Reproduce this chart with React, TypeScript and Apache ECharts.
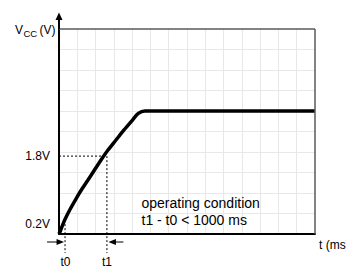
import React, { useEffect, useRef } from "react";
import * as echarts from "echarts";

// Supply voltage rise curve (x in grid units of time, y in volts)
const curveT = [0, 0.093, 0.312, 0.585, 0.891, 1.22, 1.586, 1.941, 2.297, 2.68, 3.117, 3.555, 4.02, 4.337, 4.703, 14];
const curveV = [0, 0.098, 0.341, 0.585, 0.829, 1.073, 1.317, 1.561, 1.805, 2.049, 2.293, 2.537, 2.78, 2.944, 3.0, 3.0];

// Marker levels / times
const levelValues = [0.24, 1.9];
const levelLabels = ["0.2V", "1.8V"];
const timeValues = [0.33, 2.62];
const timeLabels = ["t0", "t1"];

const noteLines = ["operating condition", "t1 - t0 < 1000 ms"];

const FONT = '"Liberation Sans", Arial, sans-serif';

export default function App() {
  const ref = useRef<HTMLDivElement>(null);

  useEffect(() => {
    if (!ref.current) return;
    const chart = echarts.init(ref.current, null, { renderer: "svg" });
    chart.setOption({
      animation: false,
      grid: { left: 59, right: 31, top: 29, bottom: 35 },
      xAxis: {
        type: "value",
        min: 0,
        max: 14,
        interval: 1,
        axisLine: { show: true, onZero: false, lineStyle: { color: "#000", width: 2 } },
        axisTick: { show: false },
        axisLabel: { show: false },
        splitLine: { show: true, showMinLine: false, showMaxLine: false, lineStyle: { color: "#e8e8e8", width: 1 } },
      },
      yAxis: {
        type: "value",
        min: 0,
        max: 5,
        interval: 0.5,
        axisLine: { show: true, onZero: false, lineStyle: { color: "#000", width: 2 } },
        axisTick: { show: false },
        axisLabel: { show: false },
        splitLine: { show: true, showMinLine: false, showMaxLine: false, lineStyle: { color: "#e8e8e8", width: 1 } },
      },
      series: [
        {
          type: "line",
          data: curveT.map((t, i) => [t, curveV[i]]),
          smooth: 0.3,
          showSymbol: false,
          lineStyle: { color: "#000", width: 3.5 },
          z: 5,
        },
      ],
    });

    const p = (x: number, y: number) => chart.convertToPixel({ gridIndex: 0 }, [x, y]) as number[];
    const [x0, yBottom] = p(0, 0);
    const [xMax, yTop] = p(14, 5);

    const dash = { stroke: "#000", lineWidth: 1, lineDash: [2, 2] };
    const txt = (text: string, x: number, y: number, size: number, align: string) => ({
      type: "text",
      x,
      y,
      z: 20,
      style: {
        text,
        fill: "#000",
        font: `${size}px ${FONT}`,
        fontSize: size,
        fontFamily: FONT,
        align,
        textAlign: align,
        verticalAlign: "middle",
        textVerticalAlign: "middle",
      },
    });

    const g: any[] = [];
    // top & right frame
    g.push({ type: "line", z: 15, shape: { x1: x0, y1: yTop, x2: xMax, y2: yTop }, style: { stroke: "#5a5a5a", lineWidth: 1.5 } });
    g.push({ type: "line", z: 15, shape: { x1: xMax, y1: yTop, x2: xMax, y2: yBottom }, style: { stroke: "#5a5a5a", lineWidth: 1.5 } });
    // y-axis extension + arrow
    g.push({ type: "line", z: 16, shape: { x1: x0, y1: yTop, x2: x0, y2: 18 }, style: { stroke: "#000", lineWidth: 2 } });
    g.push({ type: "polygon", z: 16, shape: { points: [[x0, 12.5], [x0 - 3.5, 20], [x0 + 3.5, 20]] }, style: { fill: "#000" } });

    // level markers
    const [tx1, ly1] = p(timeValues[1], levelValues[1]);
    const [tx0, ly0] = p(timeValues[0], levelValues[0]);
    g.push({ type: "line", z: 12, shape: { x1: x0, y1: ly1, x2: tx1, y2: ly1 }, style: dash });
    g.push({ type: "line", z: 12, shape: { x1: tx1, y1: ly1, x2: tx1, y2: yBottom + 19 }, style: dash });
    g.push({ type: "line", z: 12, shape: { x1: tx0, y1: ly0, x2: tx0, y2: yBottom + 19 }, style: dash });

    levelValues.forEach((v, i) => {
      const [, y] = p(0, v);
      g.push(txt(levelLabels[i], x0 - 9, y, 12, "right"));
    });
    timeValues.forEach((t, i) => {
      const [x] = p(t, 0);
      g.push(txt(timeLabels[i], x + (i === 0 ? 0.5 : 0), yBottom + 28, 12, "center"));
    });

    // arrows pointing at t0 and t1
    const ay = yBottom + 8;
    g.push({ type: "line", z: 12, shape: { x1: tx0 - 18, y1: ay, x2: tx0 - 6, y2: ay }, style: { stroke: "#000", lineWidth: 1 } });
    g.push({ type: "polygon", z: 12, shape: { points: [[tx0 - 1, ay], [tx0 - 8.5, ay - 3], [tx0 - 8.5, ay + 3]] }, style: { fill: "#000" } });
    g.push({ type: "line", z: 12, shape: { x1: tx1 + 16.5, y1: ay, x2: tx1 + 6, y2: ay }, style: { stroke: "#000", lineWidth: 1 } });
    g.push({ type: "polygon", z: 12, shape: { points: [[tx1 + 1.5, ay], [tx1 + 9, ay - 3], [tx1 + 9, ay + 3]] }, style: { fill: "#000" } });

    // axis titles
    g.push({
      type: "text",
      x: 15,
      y: 36,
      z: 20,
      style: { text: "V", fill: "#000", font: `12px ${FONT}`, fontSize: 12, fontFamily: FONT, verticalAlign: "bottom", textVerticalAlign: "bottom" },
    });
    g.push({
      type: "text",
      x: 23.5,
      y: 38,
      z: 20,
      style: { text: "CC", fill: "#000", font: `9.5px ${FONT}`, fontSize: 9.5, fontFamily: FONT, verticalAlign: "bottom", textVerticalAlign: "bottom" },
    });
    g.push({
      type: "text",
      x: 39.5,
      y: 36,
      z: 20,
      style: { text: "(V)", fill: "#000", font: `12px ${FONT}`, fontSize: 12, fontFamily: FONT, verticalAlign: "bottom", textVerticalAlign: "bottom" },
    });
    g.push(txt("t (ms)", xMax + 4, yBottom + 10.5, 12, "left"));

    // note
    g.push(txt(noteLines[0], 141.5, 203, 14, "left"));
    g.push(txt(noteLines[1], 141.5, 219.5, 14, "left"));

    chart.setOption({ graphic: g });
    return () => chart.dispose();
  }, []);

  return (
    <div
      ref={ref}
      style={{ position: "fixed", left: 0, top: 0, width: 346, height: 269, background: "#fff" }}
    />
  );
}
